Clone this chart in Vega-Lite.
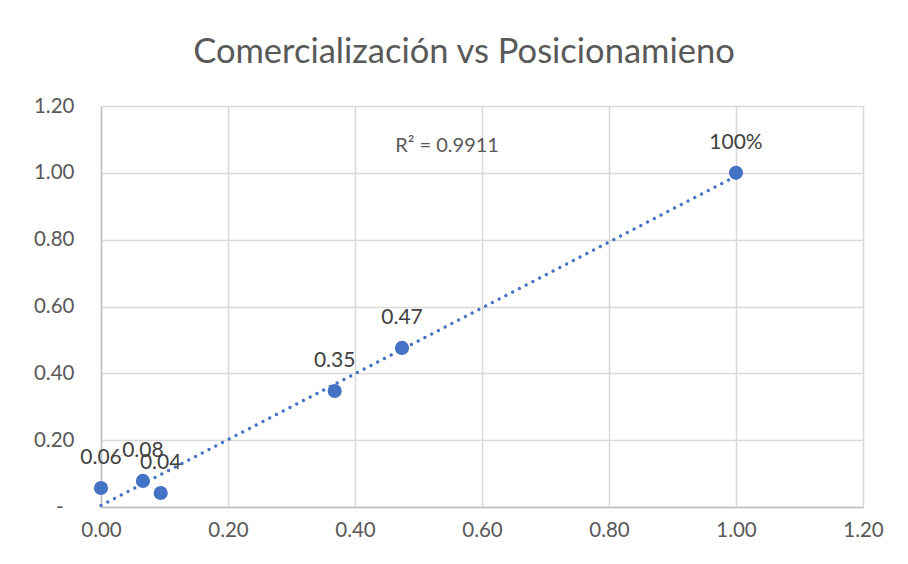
{
  "$schema": "https://vega.github.io/schema/vega-lite/v6.json",
  "width": 762,
  "height": 401,
  "autosize": "none",
  "padding": {"left": 101, "top": 106, "right": 45, "bottom": 57},
  "background": "white",
  "title": {"text": "Comercialización vs Posicionamieno", "font": "Lato", "fontSize": 34.5, "fontWeight": "normal", "color": "#595959", "offset": 26, "dx": -18, "anchor": "middle"},
  "config": {"view": {"stroke": null}, "font": "Lato"},
  "datasets": {
    "pts": [
      {"x": 0.0, "y": 0.057, "label": "0.06"},
      {"x": 0.066, "y": 0.078, "label": "0.08"},
      {"x": 0.094, "y": 0.042, "label": "0.04"},
      {"x": 0.368, "y": 0.347, "label": "0.35"},
      {"x": 0.474, "y": 0.476, "label": "0.47"},
      {"x": 1.0, "y": 1.0, "label": "100%"}
    ],
    "ann": [{"x": 0.545, "y": 1.08, "text": "R² = 0.9911"}]
  },
  "layer": [
    {
      "data": {"name": "pts"},
      "transform": [{"regression": "y", "on": "x"}],
      "mark": {"type": "line", "color": "#4472C4", "strokeWidth": 3.2, "strokeCap": "round", "strokeDash": [0.1, 7.5]},
      "encoding": {
        "x": {"field": "x", "type": "quantitative", "scale": {"domain": [0, 1.2], "nice": false},
          "axis": {"values": [0, 0.2, 0.4, 0.6, 0.8, 1.0, 1.2], "format": ".2f", "title": null, "grid": true, "gridColor": "#d9d9d9", "gridWidth": 1.5, "domainColor": "#bfbfbf", "domainWidth": 1.5, "ticks": false, "labelFlush": false, "labelOverlap": false, "labelFont": "Lato", "labelFontSize": 20.5, "labelColor": "#595959", "labelPadding": 13}},
        "y": {"field": "y", "type": "quantitative", "scale": {"domain": [0, 1.2], "nice": false},
          "axis": {"values": [0, 0.2, 0.4, 0.6, 0.8, 1.0, 1.2], "labelExpr": "datum.value == 0 ? '-' : format(datum.value, '.2f')", "title": null, "grid": true, "gridColor": "#d9d9d9", "gridWidth": 1.5, "domainColor": "#bfbfbf", "domainWidth": 1.5, "ticks": false, "labelFlush": false, "labelOverlap": false, "labelFont": "Lato", "labelFontSize": 20.5, "labelColor": "#595959", "labelPadding": {"condition": {"test": "datum.value == 0", "value": 38}, "value": 27}}}
      }
    },
    {
      "data": {"name": "pts"},
      "mark": {"type": "point", "filled": true, "shape": "circle", "size": 200, "color": "#4472C4", "opacity": 1},
      "encoding": {
        "x": {"field": "x", "type": "quantitative"},
        "y": {"field": "y", "type": "quantitative"}
      }
    },
    {
      "data": {"name": "pts"},
      "mark": {"type": "text", "font": "Lato", "fontSize": 21, "color": "#404040", "dy": -30, "align": "center", "baseline": "middle"},
      "encoding": {
        "x": {"field": "x", "type": "quantitative"},
        "y": {"field": "y", "type": "quantitative"},
        "text": {"field": "label"}
      }
    },
    {
      "data": {"name": "ann"},
      "mark": {"type": "text", "font": "Lato", "fontSize": 20, "color": "#595959", "align": "center", "baseline": "middle"},
      "encoding": {
        "x": {"field": "x", "type": "quantitative"},
        "y": {"field": "y", "type": "quantitative"},
        "text": {"field": "text"}
      }
    }
  ]
}
